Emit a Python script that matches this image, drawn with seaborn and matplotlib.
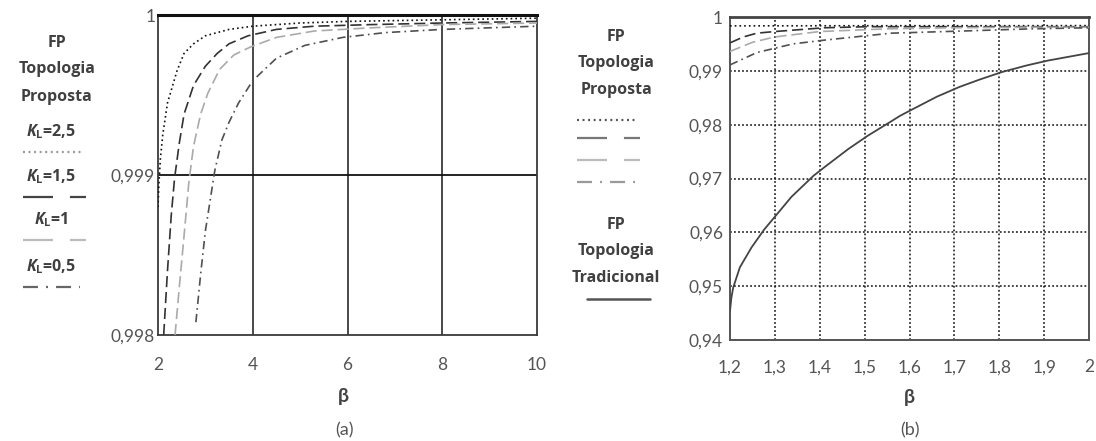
import matplotlib
matplotlib.use("Agg")
import matplotlib.pyplot as plt
from matplotlib.lines import Line2D
import seaborn as sns

# ---- panel (a): FP of the proposed topology, beta 2..10
beta_a_k25 = [2.0, 2.02, 2.05, 2.1, 2.2, 2.3, 2.4, 2.55, 2.75, 3.0, 3.5, 4.0, 5.0, 6.0, 8.0, 10.0]
fp_a_k25 = [0.99880, 0.99895, 0.99910, 0.99925, 0.99945, 0.99955, 0.99965, 0.99976, 0.99982,
            0.99987, 0.99991, 0.99993, 0.99995, 0.99996, 0.99997, 0.99998]
beta_a_k15 = [2.12, 2.2, 2.28, 2.35, 2.45, 2.55, 2.75, 3.0, 3.25, 3.5, 3.9, 4.5, 5.3, 6.5, 8.0, 10.0]
fp_a_k15 = [0.99800, 0.99840, 0.99875, 0.99898, 0.99920, 0.99938, 0.99956, 0.99968, 0.99976,
            0.99982, 0.99987, 0.99991, 0.99993, 0.99994, 0.99995, 0.99996]
beta_a_k1 = [2.36, 2.45, 2.55, 2.65, 2.75, 2.9, 3.05, 3.3, 3.6, 3.95, 4.5, 5.3, 6.5, 8.0, 10.0]
fp_a_k1 = [0.99800, 0.99830, 0.99862, 0.99895, 0.99918, 0.99938, 0.99951, 0.99966, 0.99975,
           0.99980, 0.99986, 0.99990, 0.99992, 0.99994, 0.99995]
beta_a_k05 = [2.8, 2.9, 3.0, 3.1, 3.2, 3.35, 3.5, 3.7, 4.0, 4.5, 5.1, 5.9, 6.8, 8.0, 10.0]
fp_a_k05 = [0.99808, 0.99838, 0.99865, 0.99884, 0.99903, 0.99922, 0.99933, 0.99945, 0.99959,
            0.99973, 0.99981, 0.99986, 0.99989, 0.99991, 0.99993]

# ---- panel (b): beta 1.2..2, proposed vs traditional
beta_b_k25 = [1.2, 1.4, 1.6, 1.8, 2.0]
fp_b_k25 = [0.99835, 0.99837, 0.99838, 0.99838, 0.99840]
beta_b_k15 = [1.2, 1.23, 1.26, 1.3, 1.41, 1.51, 1.7, 1.9, 2.0]
fp_b_k15 = [0.9952, 0.9963, 0.9970, 0.9973, 0.9980, 0.9982, 0.9982, 0.9982, 0.9982]
beta_b_k1 = [1.2, 1.25, 1.3, 1.4, 1.55, 1.7, 1.85, 2.0]
fp_b_k1 = [0.9936, 0.9953, 0.9963, 0.9973, 0.9978, 0.9980, 0.9981, 0.9981]
beta_b_k05 = [1.2, 1.26, 1.34, 1.41, 1.49, 1.56, 1.72, 1.87, 2.0]
fp_b_k05 = [0.9911, 0.9934, 0.9950, 0.9957, 0.9964, 0.9970, 0.9974, 0.9978, 0.9980]
beta_b_trad = [1.2, 1.203, 1.207, 1.222, 1.248, 1.276, 1.308, 1.337, 1.386, 1.412, 1.464, 1.508,
               1.557, 1.579, 1.61, 1.661, 1.711, 1.757, 1.807, 1.861, 1.908, 2.0]
fp_b_trad = [0.9454, 0.9478, 0.9497, 0.9535, 0.9572, 0.9605, 0.9637, 0.9666, 0.9705, 0.9722,
             0.9755, 0.9780, 0.9805, 0.98165, 0.9830, 0.9852, 0.9870, 0.9884, 0.9898, 0.9910,
             0.9919, 0.9933]

kl_labels = ["2,5", "1,5", "1", "0,5"]
xticks_a = [2, 4, 6, 8, 10]
yticks_a = [0.998, 0.999, 1.0]
yticklabels_a = ["0,998", "0,999", "1"]
xticks_b = [1.2, 1.3, 1.4, 1.5, 1.6, 1.7, 1.8, 1.9, 2.0]
xticklabels_b = ["1,2", "1,3", "1,4", "1,5", "1,6", "1,7", "1,8", "1,9", "2"]
yticks_b = [0.94, 0.95, 0.96, 0.97, 0.98, 0.99, 1.0]
yticklabels_b = ["0,94", "0,95", "0,96", "0,97", "0,98", "0,99", "1"]

sns.set_style("white")
plt.rcParams['font.family'] = ['Lato', 'DejaVu Sans']
plt.rcParams['mathtext.fontset'] = 'custom'
plt.rcParams['mathtext.it'] = 'Open Sans:italic:bold'
plt.rcParams['mathtext.rm'] = 'Open Sans:bold'
plt.rcParams['lines.scale_dashes'] = False

W, H = 1096, 441
fig = plt.figure(figsize=(W / 100, H / 100), dpi=100)
ax1 = fig.add_axes([158 / W, 1 - 335 / H, 379 / W, 320 / H])
ax2 = fig.add_axes([730 / W, 1 - 340 / H, 359 / W, 323 / H])

# line styles (plot dashes, colour)
styles = {
    "2,5": ((0, (1.2, 2.2)), "#111111"),
    "1,5": ((0, (8, 3.5)), "#333333"),
    "1": ((0, (8, 3.5)), "#aaaaaa"),
    "0,5": ((0, (6, 3, 1.2, 3)), "#505050"),
}

series_a = [(beta_a_k25, fp_a_k25), (beta_a_k15, fp_a_k15), (beta_a_k1, fp_a_k1), (beta_a_k05, fp_a_k05)]
series_b = [(beta_b_k25, fp_b_k25), (beta_b_k15, fp_b_k15), (beta_b_k1, fp_b_k1), (beta_b_k05, fp_b_k05)]

for ax, series in [(ax1, series_a), (ax2, series_b)]:
    for kl, (xs, ys) in zip(kl_labels, series):
        ls, col = styles[kl]
        sns.lineplot(x=xs, y=ys, ax=ax, color=col, linestyle=ls, linewidth=1.2,
                     estimator=None, sort=False, zorder=3)

sns.lineplot(x=beta_b_trad, y=fp_b_trad, ax=ax2, color="#444444", linewidth=1.3,
             estimator=None, sort=False, zorder=3)

tick_col = "#555555"
tick_size = 12.5

# panel (a) axes
ax1.set_xlim(2, 10)
ax1.set_ylim(0.998, 1.0)
ax1.set_xticks(xticks_a)
ax1.set_xticklabels([str(t) for t in xticks_a])
ax1.set_yticks(yticks_a)
ax1.set_yticklabels(yticklabels_a)
for v in [4, 6, 8]:
    ax1.axvline(v, color="#3a3a3a", lw=1.3, zorder=1)
ax1.axhline(0.999, color="#111111", lw=1.3, zorder=1)
for s in ["left", "right", "bottom"]:
    ax1.spines[s].set_color("#3a3a3a")
    ax1.spines[s].set_linewidth(1.3)
ax1.spines["top"].set_color("#111111")
ax1.spines["top"].set_linewidth(2.2)
ax1.tick_params(axis="x", length=0, pad=16, labelsize=tick_size, labelcolor=tick_col)
ax1.tick_params(axis="y", length=0, pad=2, labelsize=tick_size, labelcolor=tick_col)
ax1.set_xlabel("β", fontsize=14, fontweight="bold", color="#444444")
ax1.xaxis.set_label_coords(0.49, -0.165)

# panel (b) axes
ax2.set_xlim(1.2, 2.0)
ax2.set_ylim(0.94, 1.0)
ax2.set_xticks(xticks_b)
ax2.set_xticklabels(xticklabels_b)
ax2.set_yticks(yticks_b)
ax2.set_yticklabels(yticklabels_b)
ax2.grid(True, color="#111111", linestyle=(0, (1.3, 1.6)), linewidth=1.1, zorder=1)
ax2.set_axisbelow(True)
for s in ["left", "right", "bottom"]:
    ax2.spines[s].set_color("#555555")
    ax2.spines[s].set_linewidth(1.4)
ax2.spines["top"].set_color("#444444")
ax2.spines["top"].set_linewidth(2.0)
ax2.tick_params(axis="x", length=0, pad=14, labelsize=tick_size, labelcolor=tick_col)
ax2.tick_params(axis="y", length=0, pad=5, labelsize=tick_size, labelcolor=tick_col)
ax2.set_xlabel("β", fontsize=14, fontweight="bold", color="#444444")
ax2.xaxis.set_label_coords(0.5, -0.152)

fig.text(344 / W, 1 - 430 / H, "(a)", ha="center", va="center", fontsize=13, color=tick_col)
fig.text(910 / W, 1 - 430 / H, "(b)", ha="center", va="center", fontsize=13, color=tick_col)

txt_col = "#404040"


def ftext(x, y, s):
    fig.text(x / W, 1 - y / H, s, ha="center", va="center", fontsize=11.5,
             fontweight="bold", color=txt_col, family=["Open Sans", "DejaVu Sans"])


def fline(x0, x1, y, ls, col, lw=1.6):
    fig.add_artist(Line2D([x0 / W, x1 / W], [1 - y / H, 1 - y / H], transform=fig.transFigure,
                          linestyle=ls, color=col, linewidth=lw))


# left legend for (a)
ftext(57, 43, "FP")
ftext(57, 69, "Topologia")
ftext(57, 97, "Proposta")
leg_ls = {
    "2,5": ((0, (1.4, 2.6)), "#999999"),
    "1,5": ((0, (21.6, 12.2)), "#444444"),
    "1": ((0, (21.6, 12.2)), "#bbbbbb"),
    "0,5": ((0, (10.8, 5.8, 1.4, 5.8)), "#666666"),
}
for kl, ty, ly, x1 in zip(kl_labels, [132, 177, 220, 267], [152, 197, 240, 287], [84, 86, 86, 80]):
    ftext(51, ty, r"$K_{\mathrm{L}}$=" + kl)
    ls, col = leg_ls[kl]
    fline(23, x1, ly, ls, col)

# middle legend for (b)
ftext(616, 37, "FP")
ftext(616, 63, "Topologia")
ftext(616, 90, "Proposta")
mid_ls = {
    "2,5": ((0, (1.4, 2.6)), "#555555"),
    "1,5": ((0, (21.6, 12.2)), "#777777"),
    "1": ((0, (21.6, 12.2)), "#bbbbbb"),
    "0,5": ((0, (10.8, 5.8, 1.4, 5.8)), "#999999"),
}
for kl, ly, x1 in zip(kl_labels, [120, 138, 160, 182], [638, 640, 640, 636]):
    ls, col = mid_ls[kl]
    fline(577, x1, ly, ls, col)
ftext(616, 225, "FP")
ftext(616, 251, "Topologia")
ftext(616, 278, "Tradicional")
fline(587, 650, 299, "-", "#555555", lw=1.8)

fig.savefig("out.png", dpi=100)
